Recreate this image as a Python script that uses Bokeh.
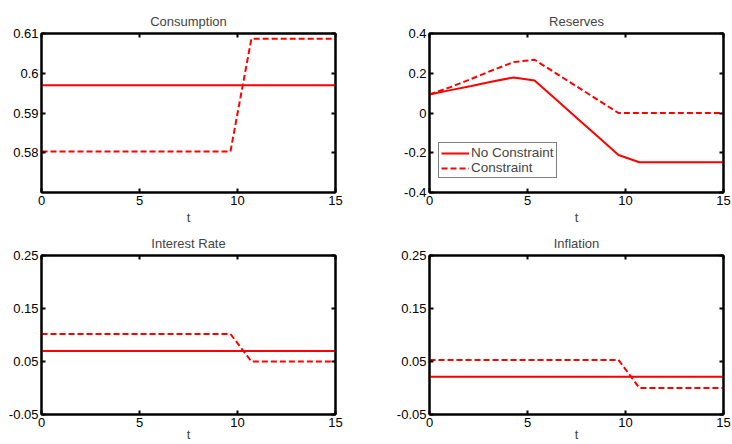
from bokeh.plotting import figure
from bokeh.layouts import gridplot
from bokeh.models import (Range1d, LinearAxis, FixedTicker, CustomJSTickFormatter,
                          CustomLabelingPolicy)
from bokeh.embed import file_html
from bokeh.resources import INLINE

# ---- data ----
t = [0, 1.07, 2.14, 3.21, 4.29, 5.36, 6.43, 7.5, 8.57, 9.64, 10.71, 11.79, 12.86, 13.93, 15]

cons_nc = [0.597, 0.597, 0.597, 0.597, 0.597, 0.597, 0.597, 0.597, 0.597, 0.597, 0.597, 0.597, 0.597, 0.597, 0.597]
cons_c = [0.5803, 0.5803, 0.5803, 0.5803, 0.5803, 0.5803, 0.5803, 0.5803, 0.5803, 0.5803, 0.6087, 0.6087, 0.6087, 0.6087, 0.6087]

res_nc = [0.093, 0.115, 0.136, 0.158, 0.179, 0.164, 0.070, -0.024, -0.117, -0.211, -0.248, -0.248, -0.248, -0.248, -0.248]
res_c = [0.093, 0.13, 0.172, 0.215, 0.256, 0.268, 0.201, 0.134, 0.067, 0.0, 0.0, 0.0, 0.0, 0.0, 0.0]

int_nc = [0.07, 0.07, 0.07, 0.07, 0.07, 0.07, 0.07, 0.07, 0.07, 0.07, 0.07, 0.07, 0.07, 0.07, 0.07]
int_c = [0.102, 0.102, 0.102, 0.102, 0.102, 0.102, 0.102, 0.102, 0.102, 0.102, 0.05, 0.05, 0.05, 0.05, 0.05]

inf_nc = [0.021, 0.021, 0.021, 0.021, 0.021, 0.021, 0.021, 0.021, 0.021, 0.021, 0.021, 0.021, 0.021, 0.021, 0.021]
inf_c = [0.053, 0.053, 0.053, 0.053, 0.053, 0.053, 0.053, 0.053, 0.053, 0.053, 0.0, 0.0, 0.0, 0.0, 0.0]

x_ticks = [0, 5, 10, 15]
cons_ticks = [0.58, 0.59, 0.6, 0.61]
res_ticks = [-0.4, -0.2, 0, 0.2, 0.4]
rate_ticks = [-0.05, 0.05, 0.15, 0.25]

FONT = "Liberation Sans"
RED = "#ff0000"


def fmt():
    return CustomJSTickFormatter(code="return String(parseFloat(tick.toFixed(4)));")


def style_axis(ax, ticks, show_labels=True):
    ax.ticker = FixedTicker(ticks=ticks)
    ax.major_tick_in = 4
    ax.major_tick_out = 0
    ax.minor_tick_line_color = None
    ax.axis_line_color = "black"
    ax.axis_line_width = 2
    ax.major_tick_line_color = "black"
    ax.major_tick_line_width = 2
    ax.major_label_text_font = FONT
    ax.major_label_text_color = "black"
    if show_labels:
        ax.formatter = fmt()
        ax.major_label_text_font_size = "13px"
        ax.major_label_standoff = 3
    else:
        ax.formatter = CustomJSTickFormatter(code="return '';")
        ax.major_label_policy = CustomLabelingPolicy(
            code="for (const i of indices) indices.unset(i); return indices;")
        ax.major_label_standoff = 0


def make(title, yr, yticks, nc, c, left_col, top_row, legend=False):
    if top_row:
        height, btop, bbot, lab_standoff = 227, 33, 35, 2
    else:
        height, btop, bbot, lab_standoff = 217, 28, 30, -3
    p = figure(width=366, height=height, output_backend="svg", toolbar_location=None,
               x_range=Range1d(0, 15), y_range=Range1d(*yr), title=title,
               min_border_left=41 if left_col else 63,
               min_border_right=31 if left_col else 9,
               min_border_top=btop, min_border_bottom=bbot)
    p.grid.visible = False
    p.outline_line_color = "black"
    p.outline_line_width = 2
    p.background_fill_color = "white"
    p.border_fill_color = "white"
    p.title.align = "center"
    p.title.text_font = FONT
    p.title.text_font_size = "13px"
    p.title.text_font_style = "normal"
    p.title.standoff = 9

    style_axis(p.xaxis[0], x_ticks, True)
    style_axis(p.yaxis[0], yticks, True)
    xa = p.xaxis[0]
    xa.axis_label = "t"
    xa.axis_label_text_font = FONT
    xa.axis_label_text_font_size = "13px"
    xa.axis_label_text_font_style = "normal"
    xa.axis_label_text_line_height = 1.0
    xa.major_label_text_line_height = 1.0
    xa.axis_label_standoff = lab_standoff

    top = LinearAxis()
    style_axis(top, x_ticks, False)
    p.add_layout(top, "above")
    right = LinearAxis()
    style_axis(right, yticks, False)
    p.add_layout(right, "right")

    if legend:
        p.line(t, nc, line_color=RED, line_width=2, legend_label="No Constraint")
        p.line(t, c, line_color=RED, line_width=2, line_dash="6 3", legend_label="Constraint")
        lg = p.legend[0]
        lg.location = (9, 14)
        lg.border_line_color = "black"
        lg.border_line_width = 1.5
        lg.background_fill_color = "white"
        lg.background_fill_alpha = 1
        lg.label_text_font = FONT
        lg.label_text_font_size = "13.5px"
        lg.glyph_width = 28
        lg.glyph_height = 14
        lg.label_height = 14
        lg.label_standoff = 2
        lg.padding = 2
        lg.spacing = 0
        lg.margin = 0
    else:
        p.line(t, nc, line_color=RED, line_width=2)
        p.line(t, c, line_color=RED, line_width=2, line_dash="6 3")
    return p


p1 = make("Consumption", (0.57, 0.61), cons_ticks, cons_nc, cons_c, True, True)
p2 = make("Reserves", (-0.4, 0.4), res_ticks, res_nc, res_c, False, True, legend=True)
p3 = make("Interest Rate", (-0.05, 0.25), rate_ticks, int_nc, int_c, True, False)
p4 = make("Inflation", (-0.05, 0.25), rate_ticks, inf_nc, inf_c, False, False)

grid = gridplot([[p1, p2], [p3, p4]], toolbar_location=None)

open("out.html", "w").write(file_html(grid, INLINE))
